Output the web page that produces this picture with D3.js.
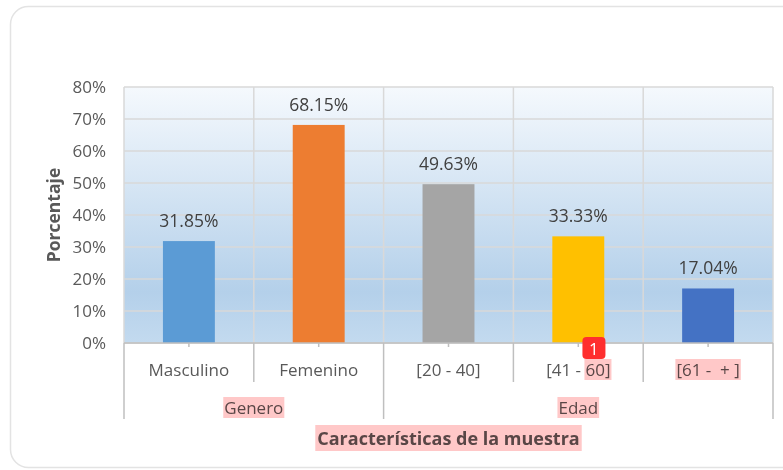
<!DOCTYPE html>
<html>
<head>
<meta charset="utf-8">
<script src="https://cdn.jsdelivr.net/npm/d3@7"></script>
<style>
   body { margin: 0; background: #ffffff; }
   text { font-family: "Open Sans", "Noto Sans", sans-serif; }
</style>
</head>
<body>
<div class="bar-chart-container"></div>
<script>
// values
const categories = ['Masculino', 'Femenino', '[20 - 40]', '[41 - 60]', '[61 -  + ]'];
const values = [0.3185, 0.6815, 0.4963, 0.3333, 0.1704];
const bar_colors = ['#5b9bd5', '#ed7d31', '#a5a5a5', '#ffc000', '#4472c4'];
const groups = ['Genero', 'Edad'];
const group_sizes = [2, 3];
const y_ticks = [0, 0.1, 0.2, 0.3, 0.4, 0.5, 0.6, 0.7, 0.8];
const y_title = 'Porcentaje';
const x_title = 'Características de la muestra';

const highlight_fill = '#ffc8c8';
const text_color = '#595959';
const grid_color = '#d9d9d9';

function build_svg() {
   const svg = d3.select('.bar-chart-container')
      .append('svg')
      .attr('width', 783)
      .attr('height', 470);

   // the card around the chart
   svg.append('rect')
      .attr('x', 10.5).attr('y', 6.5)
      .attr('width', 790).attr('height', 461)
      .attr('rx', 18)
      .style('fill', '#ffffff')
      .style('stroke', '#e3e3e3')
      .style('stroke-width', 1.5);

   const defs = svg.append('defs');
   const grad = defs.append('linearGradient')
      .attr('id', 'plot-bg')
      .attr('x1', 0).attr('y1', 0).attr('x2', 0).attr('y2', 1);
   grad.append('stop').attr('offset', '0%').attr('stop-color', '#f5f9fd');
   grad.append('stop').attr('offset', '80%').attr('stop-color', '#b4d0ea');
   grad.append('stop').attr('offset', '100%').attr('stop-color', '#c3daef');

   return svg;
}

function build_x_scale(plot) {
   return d3.scaleBand()
      .domain(categories)
      .range([plot.left, plot.right])
      .paddingInner(0)
      .paddingOuter(0);
}

function build_y_scale(plot) {
   return d3.scaleLinear()
      .domain([0, 0.8])
      .range([plot.bottom, plot.top]);
}

function draw_background(svg, plot, x_scale, y_scale) {
   svg.append('rect')
      .attr('x', plot.left).attr('y', plot.top)
      .attr('width', plot.right - plot.left)
      .attr('height', plot.bottom - plot.top)
      .style('fill', 'url(#plot-bg)');

   const grid = svg.append('g').attr('class', 'grid');
   grid.selectAll('.h-grid')
      .data(y_ticks)
      .enter()
      .append('line')
      .attr('x1', plot.left).attr('x2', plot.right)
      .attr('y1', d => y_scale(d)).attr('y2', d => y_scale(d))
      .style('stroke', grid_color)
      .style('stroke-width', 1.5);

   // vertical lines between the categories, plus both borders
   const v_lines = categories.map(c => x_scale(c)).concat([plot.right]);
   grid.selectAll('.v-grid')
      .data(v_lines)
      .enter()
      .append('line')
      .attr('x1', d => d).attr('x2', d => d)
      .attr('y1', plot.top).attr('y2', plot.bottom)
      .style('stroke', grid_color)
      .style('stroke-width', 1.5);
}

function draw_bars(svg, x_scale, y_scale) {
   const bw = x_scale.bandwidth() * 0.4;
   const bars = svg.append('g').attr('class', 'bars');

   bars.selectAll('rect')
      .data(categories)
      .enter()
      .append('rect')
      .attr('x', d => x_scale(d) + (x_scale.bandwidth() - bw) / 2)
      .attr('y', (d, i) => y_scale(values[i]))
      .attr('width', bw)
      .attr('height', (d, i) => y_scale(0) - y_scale(values[i]))
      .style('fill', (d, i) => bar_colors[i]);

   bars.selectAll('text')
      .data(categories)
      .enter()
      .append('text')
      .attr('x', d => x_scale(d) + x_scale.bandwidth() / 2)
      .attr('y', (d, i) => y_scale(values[i]) - 14)
      .attr('text-anchor', 'middle')
      .style('font-size', '17.5px')
      .style('fill', '#404040')
      .text((d, i) => (values[i] * 100).toFixed(2) + '%');
}

function draw_y_axis(svg, plot, y_scale) {
   const axis = d3.axisLeft(y_scale)
      .tickValues(y_ticks)
      .tickFormat(d3.format('.0%'))
      .tickSize(0)
      .tickPadding(18);

   const g = svg.append('g')
      .attr('class', 'y axis')
      .attr('transform', `translate(${plot.left}, 0)`)
      .call(axis);
   g.select('.domain').remove();
   g.selectAll('text')
      .style('font-family', '"Open Sans", sans-serif')
      .style('font-size', '17px')
      .style('fill', text_color);

   svg.append('text')
      .attr('transform', `translate(53, ${(plot.top + plot.bottom) / 2}) rotate(-90)`)
      .attr('text-anchor', 'middle')
      .attr('dominant-baseline', 'central')
      .style('font-size', '17.5px')
      .style('font-weight', 'bold')
      .style('fill', text_color)
      .text(y_title);
}

function add_highlight(parent, box, pad_x, pad_y) {
   return parent.insert('rect', ':first-child')
      .attr('x', box.x - pad_x)
      .attr('y', box.y - pad_y)
      .attr('width', box.width + pad_x * 2)
      .attr('height', box.height + pad_y * 2)
      .style('fill', highlight_fill);
}

function draw_x_axis(svg, plot, x_scale) {
   const g = svg.append('g').attr('class', 'x axis');
   const hl_layer = g.append('g').attr('class', 'highlights');
   const axis_color = '#bfbfbf';

   g.append('line')
      .attr('x1', plot.left).attr('x2', plot.right)
      .attr('y1', plot.bottom).attr('y2', plot.bottom)
      .style('stroke', axis_color).style('stroke-width', 1.5);

   // small ticks at bar centres
   g.selectAll('.mid-tick')
      .data(categories)
      .enter()
      .append('line')
      .attr('x1', d => x_scale(d) + x_scale.bandwidth() / 2)
      .attr('x2', d => x_scale(d) + x_scale.bandwidth() / 2)
      .attr('y1', plot.bottom).attr('y2', plot.bottom + 4)
      .style('stroke', axis_color).style('stroke-width', 1.5);

   // group boundaries
   let starts = [0];
   group_sizes.forEach((n, i) => starts.push(starts[i] + n));
   const group_edges = starts.map(s => s < categories.length ? x_scale(categories[s]) : plot.right);

   // category separators
   const cat_edges = categories.map(c => x_scale(c))
      .filter(x => !group_edges.some(e => Math.abs(e - x) < 0.5));
   g.selectAll('.cat-sep')
      .data(cat_edges)
      .enter()
      .append('line')
      .attr('x1', d => d).attr('x2', d => d)
      .attr('y1', plot.bottom).attr('y2', plot.bottom + 39)
      .style('stroke', axis_color).style('stroke-width', 1.5);

   g.selectAll('.group-sep')
      .data(group_edges)
      .enter()
      .append('line')
      .attr('x1', d => d).attr('x2', d => d)
      .attr('y1', plot.bottom).attr('y2', plot.bottom + 76)
      .style('stroke', axis_color).style('stroke-width', 1.5);

   const cat_labels = g.selectAll('.cat-label')
      .data(categories)
      .enter()
      .append('text')
      .attr('class', 'cat-label')
      .attr('x', d => x_scale(d) + x_scale.bandwidth() / 2)
      .attr('y', plot.bottom + 33)
      .attr('text-anchor', 'middle')
      .style('font-size', '17px')
      .style('white-space', 'pre')
      .style('fill', text_color)
      .text(d => d);

   const group_labels = g.selectAll('.group-label')
      .data(groups)
      .enter()
      .append('text')
      .attr('x', (d, i) => (group_edges[i] + group_edges[i + 1]) / 2)
      .attr('y', plot.bottom + 71)
      .attr('text-anchor', 'middle')
      .style('font-size', '17px')
      .style('fill', text_color)
      .text(d => d);

   const title = g.append('text')
      .attr('x', (plot.left + plot.right) / 2)
      .attr('y', plot.bottom + 102)
      .attr('text-anchor', 'middle')
      .style('font-size', '18px')
      .style('font-weight', 'bold')
      .style('fill', text_color)
      .text(x_title);

   // pink marker highlights, as in the screenshot
   const hl_boxes = [];
   group_labels.each(function() { hl_boxes.push({box: this.getBBox(), px: 1, py: -1}); });
   hl_boxes.push({box: title.node().getBBox(), px: 2, py: 1});

   let badge_x = 0;
   cat_labels.each(function(d, i) {
      const node = this;
      if (i === 4) {
         hl_boxes.push({box: node.getBBox(), px: 1, py: -1});
      }
      if (i === 3) {
         const cut = d.indexOf('60]');
         const box = node.getBBox();
         const start = node.getStartPositionOfChar(cut).x;
         const w = node.getSubStringLength(cut, 3);
         hl_boxes.push({box: {x: start, y: box.y, width: w, height: box.height}, px: 1, py: -1});
         badge_x = start - 3;
      }
   });

   hl_boxes.forEach(h => add_highlight(hl_layer, h.box, h.px, h.py));
   hl_layer.raise();
   hl_layer.style('mix-blend-mode', 'multiply');

   // the red comment badge
   const badge = svg.append('g').attr('class', 'badge');
   badge.append('rect')
      .attr('x', badge_x).attr('y', plot.bottom - 6)
      .attr('width', 23).attr('height', 22)
      .attr('rx', 4)
      .style('fill', '#ff2e2e');
   badge.append('text')
      .attr('x', badge_x + 11.5).attr('y', plot.bottom + 5)
      .attr('text-anchor', 'middle')
      .attr('dominant-baseline', 'central')
      .style('font-size', '17px')
      .style('fill', '#ffffff')
      .text('1');
}

function bar_chart_main() {
   const plot = {left: 124, right: 773, top: 87, bottom: 343};

   const svg = build_svg();
   const x_scale = build_x_scale(plot);
   const y_scale = build_y_scale(plot);
   draw_background(svg, plot, x_scale, y_scale);
   draw_bars(svg, x_scale, y_scale);
   draw_y_axis(svg, plot, y_scale);
   draw_x_axis(svg, plot, x_scale);
}

bar_chart_main();
</script>
</body>
</html>
